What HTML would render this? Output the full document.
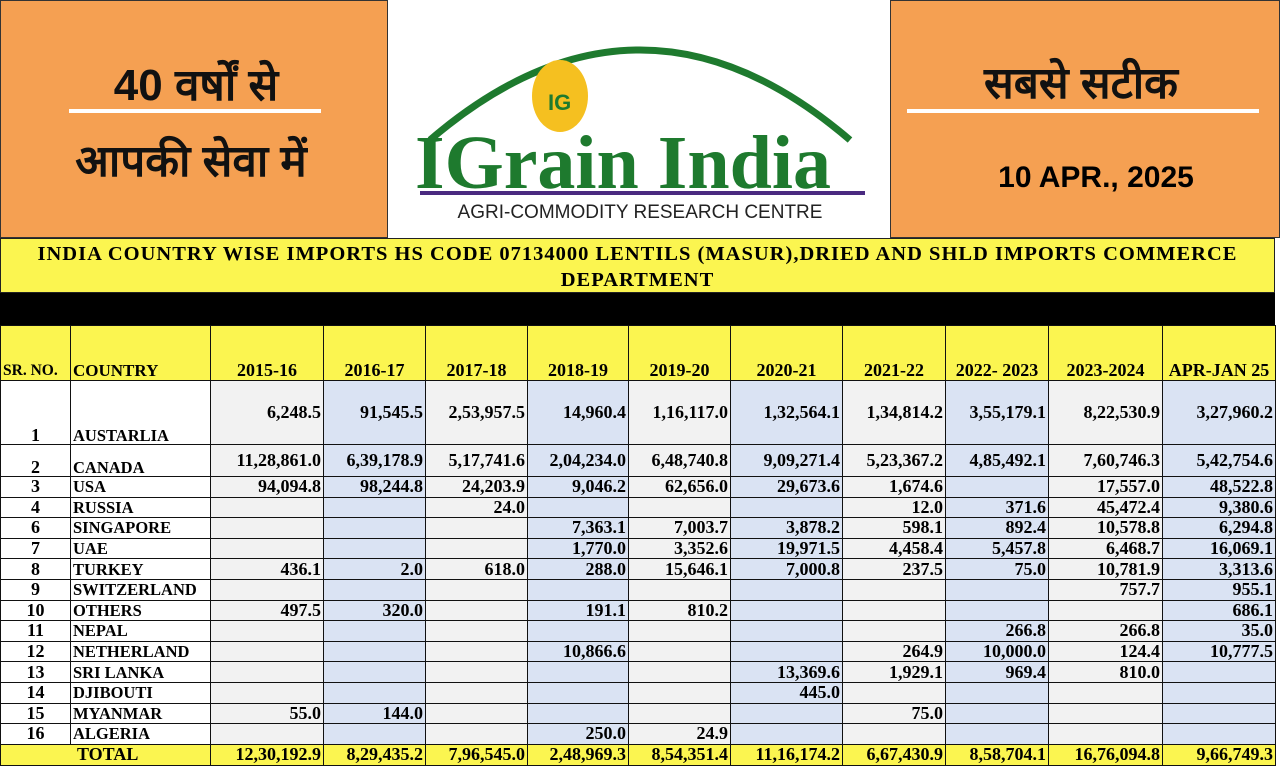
<!DOCTYPE html>
<html><head><meta charset="utf-8"><style>
body{margin:0;width:1280px;height:767px;overflow:hidden;background:#fff;position:relative;font-family:"Liberation Serif",serif}
.ban{position:absolute;top:0;height:238px}
#l{left:0;width:388px;background:#f5a052;border:1px solid #333;box-sizing:border-box}
#m{left:390px;width:500px;background:#fff}
#r{left:890px;width:390px;background:#f5a052;border:1px solid #333;box-sizing:border-box}
.hin{position:absolute;font-family:"Liberation Sans","Noto Sans CJK SC",sans-serif;font-weight:bold;color:#111;text-align:center}
.line{position:absolute;height:4px;background:#fff}
#title{position:absolute;top:238px;left:0;width:1275px;height:55px;background:#fbf550;border:1px solid #222;box-sizing:border-box;text-align:center;font-weight:bold;font-size:20.5px;line-height:26px;letter-spacing:1px;padding-top:2px}
#blk{position:absolute;top:293px;left:0;width:1275px;height:32px;background:#000}
table{position:absolute;top:325px;left:0;border-collapse:collapse;table-layout:fixed;width:1275px}
td{border:1.5px solid #111;font-weight:bold;font-size:18px;padding:0 2px;text-align:right;white-space:nowrap;overflow:hidden;line-height:17px}
td.s{text-align:center;background:#fff;font-size:18px}
td.c{text-align:left;background:#fff;font-size:16.5px}
td.g{background:#f2f2f2}
td.b{background:#dae3f3}
tr.h td{background:#fbf550;text-align:center;vertical-align:bottom;height:53px;padding-bottom:1px;font-size:18px}
tr.h td.c{text-align:left}
tr.t td{background:#fbf550;height:20px}
tr.n td{height:19.6px}
</style></head><body>
<div class="ban" id="l">
<div class="hin" style="left:60px;top:52px;width:270px;font-size:44px">40 वर्षों से</div>
<div class="line" style="left:68px;top:108px;width:252px"></div>
<div class="hin" style="left:40px;top:128px;width:300px;font-size:44px">आपकी सेवा में</div>
</div>
<div class="ban" id="m">
<svg width="500" height="238" style="position:absolute;left:0;top:0">
<path d="M40 140 Q250 -40 460 140" fill="none" stroke="#1e7a2e" stroke-width="7"/>
<ellipse cx="170" cy="96" rx="28" ry="36" fill="#f5c020"/>
<text x="158" y="110" font-family="Liberation Sans" font-weight="bold" font-size="22" fill="#1e7a2e">IG</text>
<text x="25" y="188" font-family="Liberation Serif" font-weight="bold" font-size="76" fill="#1e7a2e">IGrain India</text>
<rect x="30" y="191" width="445" height="4" fill="#4a2a80"/>
<text x="250" y="218" text-anchor="middle" font-family="Liberation Sans" font-size="19" fill="#222">AGRI-COMMODITY RESEARCH CENTRE</text>
</svg>
</div>
<div class="ban" id="r">
<div class="hin" style="left:40px;top:50px;width:300px;font-size:44px">सबसे सटीक</div>
<div class="line" style="left:16px;top:108px;width:352px"></div>
<div style="position:absolute;left:60px;top:160px;width:290px;text-align:center;font-family:'Liberation Sans',sans-serif;font-weight:bold;font-size:30px">10 APR., 2025</div>
</div>
<div id="title">INDIA COUNTRY WISE IMPORTS HS CODE 07134000 LENTILS (MASUR),DRIED AND SHLD IMPORTS COMMERCE<br>DEPARTMENT</div>
<div id="blk"></div>
<table>
<colgroup><col style="width:70px"><col style="width:140px"><col style="width:113px"><col style="width:102px"><col style="width:102px"><col style="width:101px"><col style="width:102px"><col style="width:112px"><col style="width:103px"><col style="width:103px"><col style="width:114px"><col style="width:113px"></colgroup>
<tr class="h"><td class="s" style="font-size:15.5px;text-align:left">SR. NO.</td><td class="c" style="font-size:17px">COUNTRY</td><td>2015-16</td><td>2016-17</td><td>2017-18</td><td>2018-19</td><td>2019-20</td><td>2020-21</td><td>2021-22</td><td>2022- 2023</td><td>2023-2024</td><td>APR-JAN 25</td></tr>
<tr><td class="s" style="height:63px;vertical-align:bottom">1</td><td class="c" style="vertical-align:bottom">AUSTARLIA</td><td class="g">6,248.5</td><td class="b">91,545.5</td><td class="g">2,53,957.5</td><td class="b">14,960.4</td><td class="g">1,16,117.0</td><td class="b">1,32,564.1</td><td class="g">1,34,814.2</td><td class="b">3,55,179.1</td><td class="g">8,22,530.9</td><td class="b">3,27,960.2</td></tr>
<tr><td class="s" style="height:31px;vertical-align:bottom">2</td><td class="c" style="vertical-align:bottom">CANADA</td><td class="g">11,28,861.0</td><td class="b">6,39,178.9</td><td class="g">5,17,741.6</td><td class="b">2,04,234.0</td><td class="g">6,48,740.8</td><td class="b">9,09,271.4</td><td class="g">5,23,367.2</td><td class="b">4,85,492.1</td><td class="g">7,60,746.3</td><td class="b">5,42,754.6</td></tr>
<tr class="n"><td class="s">3</td><td class="c">USA</td><td class="g">94,094.8</td><td class="b">98,244.8</td><td class="g">24,203.9</td><td class="b">9,046.2</td><td class="g">62,656.0</td><td class="b">29,673.6</td><td class="g">1,674.6</td><td class="b"></td><td class="g">17,557.0</td><td class="b">48,522.8</td></tr>
<tr class="n"><td class="s">4</td><td class="c">RUSSIA</td><td class="g"></td><td class="b"></td><td class="g">24.0</td><td class="b"></td><td class="g"></td><td class="b"></td><td class="g">12.0</td><td class="b">371.6</td><td class="g">45,472.4</td><td class="b">9,380.6</td></tr>
<tr class="n"><td class="s">6</td><td class="c">SINGAPORE</td><td class="g"></td><td class="b"></td><td class="g"></td><td class="b">7,363.1</td><td class="g">7,003.7</td><td class="b">3,878.2</td><td class="g">598.1</td><td class="b">892.4</td><td class="g">10,578.8</td><td class="b">6,294.8</td></tr>
<tr class="n"><td class="s">7</td><td class="c">UAE</td><td class="g"></td><td class="b"></td><td class="g"></td><td class="b">1,770.0</td><td class="g">3,352.6</td><td class="b">19,971.5</td><td class="g">4,458.4</td><td class="b">5,457.8</td><td class="g">6,468.7</td><td class="b">16,069.1</td></tr>
<tr class="n"><td class="s">8</td><td class="c">TURKEY</td><td class="g">436.1</td><td class="b">2.0</td><td class="g">618.0</td><td class="b">288.0</td><td class="g">15,646.1</td><td class="b">7,000.8</td><td class="g">237.5</td><td class="b">75.0</td><td class="g">10,781.9</td><td class="b">3,313.6</td></tr>
<tr class="n"><td class="s">9</td><td class="c">SWITZERLAND</td><td class="g"></td><td class="b"></td><td class="g"></td><td class="b"></td><td class="g"></td><td class="b"></td><td class="g"></td><td class="b"></td><td class="g">757.7</td><td class="b">955.1</td></tr>
<tr class="n"><td class="s">10</td><td class="c">OTHERS</td><td class="g">497.5</td><td class="b">320.0</td><td class="g"></td><td class="b">191.1</td><td class="g">810.2</td><td class="b"></td><td class="g"></td><td class="b"></td><td class="g"></td><td class="b">686.1</td></tr>
<tr class="n"><td class="s">11</td><td class="c">NEPAL</td><td class="g"></td><td class="b"></td><td class="g"></td><td class="b"></td><td class="g"></td><td class="b"></td><td class="g"></td><td class="b">266.8</td><td class="g">266.8</td><td class="b">35.0</td></tr>
<tr class="n"><td class="s">12</td><td class="c">NETHERLAND</td><td class="g"></td><td class="b"></td><td class="g"></td><td class="b">10,866.6</td><td class="g"></td><td class="b"></td><td class="g">264.9</td><td class="b">10,000.0</td><td class="g">124.4</td><td class="b">10,777.5</td></tr>
<tr class="n"><td class="s">13</td><td class="c">SRI LANKA</td><td class="g"></td><td class="b"></td><td class="g"></td><td class="b"></td><td class="g"></td><td class="b">13,369.6</td><td class="g">1,929.1</td><td class="b">969.4</td><td class="g">810.0</td><td class="b"></td></tr>
<tr class="n"><td class="s">14</td><td class="c">DJIBOUTI</td><td class="g"></td><td class="b"></td><td class="g"></td><td class="b"></td><td class="g"></td><td class="b">445.0</td><td class="g"></td><td class="b"></td><td class="g"></td><td class="b"></td></tr>
<tr class="n"><td class="s">15</td><td class="c">MYANMAR</td><td class="g">55.0</td><td class="b">144.0</td><td class="g"></td><td class="b"></td><td class="g"></td><td class="b"></td><td class="g">75.0</td><td class="b"></td><td class="g"></td><td class="b"></td></tr>
<tr class="n"><td class="s">16</td><td class="c">ALGERIA</td><td class="g"></td><td class="b"></td><td class="g"></td><td class="b">250.0</td><td class="g">24.9</td><td class="b"></td><td class="g"></td><td class="b"></td><td class="g"></td><td class="b"></td></tr>
<tr class="t"><td colspan="2" style="text-align:left;padding-left:76px">TOTAL</td><td>12,30,192.9</td><td>8,29,435.2</td><td>7,96,545.0</td><td>2,48,969.3</td><td>8,54,351.4</td><td>11,16,174.2</td><td>6,67,430.9</td><td>8,58,704.1</td><td>16,76,094.8</td><td>9,66,749.3</td></tr>
</table>
</body></html>
